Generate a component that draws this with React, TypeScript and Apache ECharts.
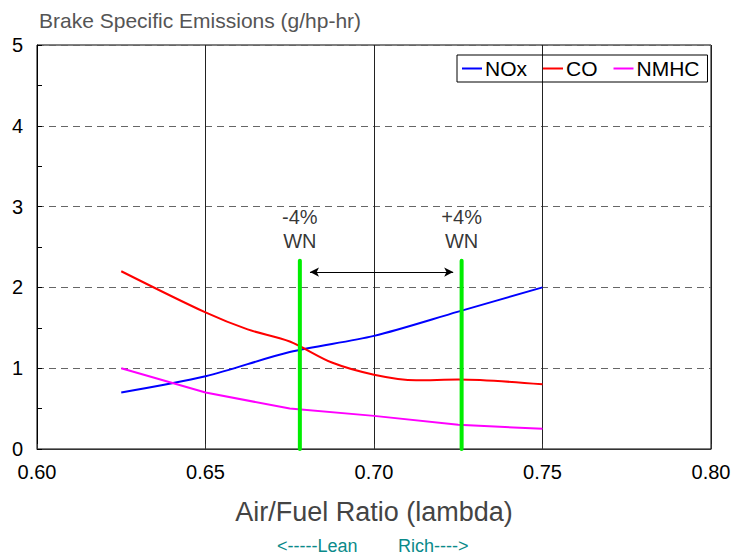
import React, { useEffect, useRef } from "react";
import * as echarts from "echarts";

const lambdaNOx = [0.625, 0.65, 0.675, 0.7, 0.725, 0.75];
const valuesNOx = [0.7, 0.9, 1.2, 1.4, 1.7, 2.0];

const lambdaCO = [0.625, 0.65, 0.6625, 0.675, 0.6875, 0.7, 0.7125, 0.725, 0.75];
const valuesCO = [2.2, 1.69, 1.48, 1.33, 1.07, 0.92, 0.85, 0.86, 0.8];

const lambdaNMHC = [0.625, 0.65, 0.675, 0.7, 0.725, 0.75];
const valuesNMHC = [1.0, 0.7, 0.5, 0.41, 0.3, 0.25];

const wnLambdas = [0.678, 0.726];
const wnTop = 2.33;
const wnLabels = ["-4%\nWN", "+4%\nWN"];
const wnLabelY = 2.72;
const arrowFrom = [0.681, 2.19];
const arrowTo = [0.7235, 2.19];

const xTicks = [0.6, 0.65, 0.7, 0.75, 0.8];
const yTicks = [0, 1, 2, 3, 4, 5];

const FONT = "'Liberation Sans', Arial, sans-serif";

export default function App() {
  const ref = useRef<HTMLDivElement>(null);
  useEffect(() => {
    if (!ref.current) return;
    const chart = echarts.init(ref.current, null, { renderer: "svg" });
    const zip = (xs: number[], ys: number[]) => xs.map((x, i) => [x, ys[i]]);
    const option: any = {
      animation: false,
      backgroundColor: "#fff",
      textStyle: { fontFamily: FONT },
      title: {
        text: "Brake Specific Emissions (g/hp-hr)",
        left: 34,
        top: 5,
        textStyle: { fontSize: 21, fontWeight: "normal", color: "#555", fontFamily: FONT },
      },
      legend: {
        data: ["NOx", "CO", "NMHC"],
        left: 457,
        top: 55,
        padding: [3, 8, 3, 5],
        itemGap: 16,
        itemWidth: 20,
        itemHeight: 2,
        icon: "rect",
        borderColor: "#000",
        borderWidth: 1,
        borderRadius: 0,
        textStyle: { fontSize: 21, color: "#000", fontFamily: FONT, padding: [0, 0, 0, -2] },
      },
      grid: {
        left: 37,
        right: 23,
        top: 45,
        bottom: 111,
        show: true,
        borderColor: "#000",
        borderWidth: 1,
      },
      xAxis: {
        type: "value",
        min: xTicks[0],
        max: xTicks[xTicks.length - 1],
        interval: 0.05,
        name: "Air/Fuel Ratio (lambda)",
        nameLocation: "middle",
        nameGap: 49,
        nameTextStyle: { fontSize: 27, color: "#444", fontFamily: FONT },
        axisLine: { show: true, lineStyle: { color: "#333", width: 1 } },
        axisTick: { show: true, inside: true, length: 5, lineStyle: { color: "#333" } },
        axisLabel: {
          fontSize: 20,
          color: "#000",
          margin: 13,
          fontFamily: FONT,
          formatter: (v: number) => v.toFixed(2),
        },
        splitLine: { show: true, lineStyle: { color: "#222", width: 1, type: "solid" } },
      },
      yAxis: {
        type: "value",
        min: yTicks[0],
        max: yTicks[yTicks.length - 1],
        interval: 1,
        axisLine: { show: true, lineStyle: { color: "#000", width: 1 } },
        axisTick: { show: true, inside: true, length: 5, lineStyle: { color: "#000" } },
        minorTick: { show: true, splitNumber: 2, length: 5, lineStyle: { color: "#000" } },
        axisLabel: { fontSize: 20, color: "#000", margin: 14, fontFamily: FONT },
        splitLine: { show: true, lineStyle: { color: "#666", width: 1, type: [7, 5] } },
      },
      series: [
        {
          name: "NOx",
          type: "line",
          data: zip(lambdaNOx, valuesNOx),
          smooth: 0.3,
          showSymbol: false,
          lineStyle: { color: "#0000ff", width: 2 },
          itemStyle: { color: "#0000ff" },
          z: 3,
        },
        {
          name: "CO",
          type: "line",
          data: zip(lambdaCO, valuesCO),
          smooth: 0.3,
          showSymbol: false,
          lineStyle: { color: "#ff0000", width: 2 },
          itemStyle: { color: "#ff0000" },
          z: 3,
        },
        {
          name: "NMHC",
          type: "line",
          data: zip(lambdaNMHC, valuesNMHC),
          smooth: false,
          showSymbol: false,
          lineStyle: { color: "#ff00ff", width: 2 },
          itemStyle: { color: "#ff00ff" },
          z: 3,
        },
        ...wnLambdas.map((l, i) => ({
          name: "wn" + i,
          type: "line",
          data: [
            [l, 0],
            [l, wnTop],
          ],
          showSymbol: false,
          lineStyle: { color: "#00ee00", width: 4, cap: "round" },
          z: 4,
          silent: true,
        })),
        {
          name: "wnLabels",
          type: "scatter",
          data: wnLambdas.map((l, i) => ({ value: [l, wnLabelY], label: { formatter: wnLabels[i] } })),
          symbolSize: 0,
          label: {
            show: true,
            position: "inside",
            fontSize: 20,
            lineHeight: 24,
            color: "#000",
            fontFamily: FONT,
            align: "center",
          },
          silent: true,
          z: 5,
        },
        {
          name: "arrow",
          type: "line",
          data: [],
          silent: true,
          markLine: {
            silent: true,
            symbol: ["arrow", "arrow"],
            symbolSize: [7, 9],
            label: { show: false },
            lineStyle: { color: "#000", width: 1, type: "solid" },
            data: [[{ coord: arrowFrom }, { coord: arrowTo }]],
          },
        },
      ],
      graphic: [
        {
          type: "text",
          left: 277,
          top: 537,
          style: { text: "<-----Lean", fill: "#0a8a8a", fontSize: 18, fontFamily: FONT },
        },
        {
          type: "text",
          left: 398,
          top: 537,
          style: { text: "Rich---->", fill: "#0a8a8a", fontSize: 18, fontFamily: FONT },
        },
      ],
    };
    chart.setOption(option);
    return () => chart.dispose();
  }, []);
  return (
    <div
      ref={ref}
      style={{ position: "fixed", left: 0, top: 0, width: 734, height: 560, background: "#fff" }}
    />
  );
}
